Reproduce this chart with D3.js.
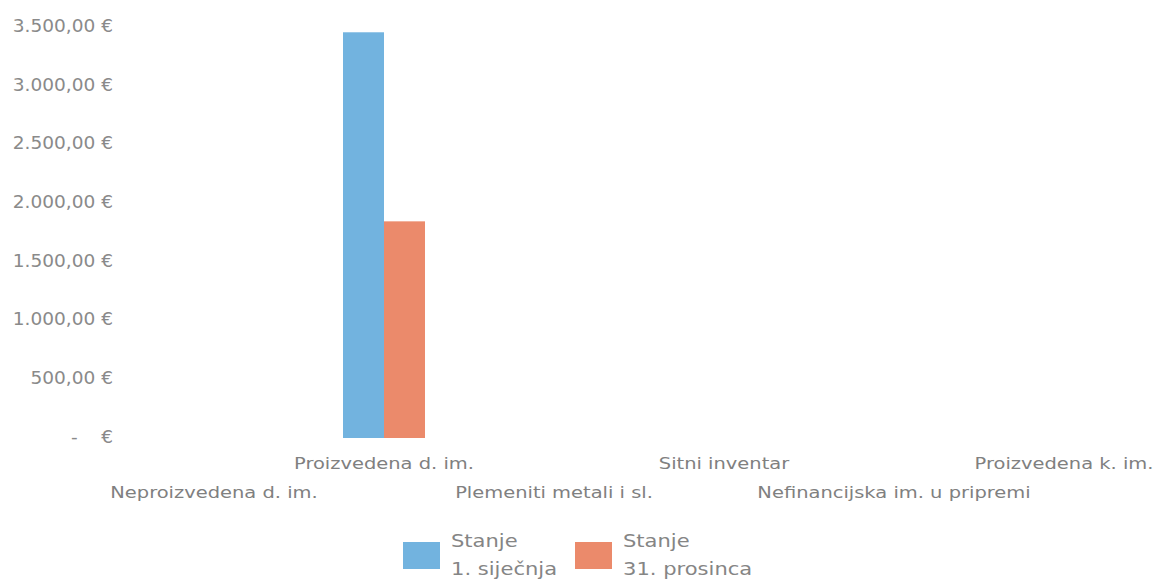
<!DOCTYPE html>
<html><head><meta charset="utf-8">
<script src="https://cdn.jsdelivr.net/npm/d3@7"></script>
<style>body{margin:0;background:#fff;}svg{display:block;}text{font-family:"DejaVu Sans",sans-serif;fill:#888;}</style>
</head><body><svg id="c" width="1160" height="580"></svg>
<script>
const categories = ["Neproizvedena d. im.","Proizvedena d. im.","Plemeniti metali i sl.","Sitni inventar","Nefinancijska im. u pripremi","Proizvedena k. im."];
const seriesNames = [["Stanje","1. siječnja"],["Stanje","31. prosinca"]];
const stanje1 = [0,3455,0,0,0,0];
const stanje31 = [0,1845,0,0,0,0];
const colors = ["#72b3df","#eb8a6b"];
const yTicks = [0,500,1000,1500,2000,2500,3000,3500];

const svg = d3.select("#c");
const m = {l:129, r:1149, t:27, b:438};
const x = d3.scaleBand().domain(categories).range([m.l, m.r]).paddingInner(0).paddingOuter(0);
const x1 = d3.scaleBand().domain([0,1]).range([0, 82]);
const y = d3.scaleLinear().domain([0,3500]).range([m.b, m.t]);

const loc = d3.formatLocale({decimal:",",thousands:".",grouping:[3],currency:["","€"]});
const fmt = v => v === 0 ? "-    €" : loc.format(",.2f")(v) + " €";

const yAxis = d3.axisLeft(y).tickValues(yTicks).tickSize(0).tickPadding(0).tickFormat(fmt);
const ga = svg.append("g").attr("transform",`translate(113,0)`).call(yAxis);
ga.select(".domain").remove();
ga.selectAll("text").style("font-size","17.5px").style("font-family","DejaVu Sans").style("fill","#8a8a8a")
  .attr("dy","0.25em").attr("transform","scale(1.06,1)").style("white-space","pre");

const series = [stanje1, stanje31];
series.forEach((vals,si)=>{
  svg.append("g").selectAll("rect").data(categories.map((c,i)=>({c,v:vals[i]})).filter(d=>d.v>0))
    .join("rect")
    .attr("x", d => x(d.c) + x.bandwidth()/2 - 41 + x1(si))
    .attr("width", x1.bandwidth())
    .attr("y", d => y(d.v))
    .attr("height", d => y(0) - y(d.v))
    .attr("fill", colors[si]);
});

const xAxis = d3.axisBottom(x).tickSize(0).tickPadding(0);
const gx = svg.append("g").attr("transform",`translate(0,${m.b})`).call(xAxis);
gx.select(".domain").remove();
gx.selectAll("text").style("font-size","16.5px").style("font-family","DejaVu Sans").style("fill","#808080")
  .attr("dy",null)
  .attr("y",(d,i)=> i%2===1 ? 31 : 60)
  .attr("transform","scale(1.18,1)");

const leg = svg.append("g");
const legX = [403, 575];
seriesNames.forEach((n,i)=>{
  leg.append("rect").attr("x",legX[i]).attr("y",542).attr("width",37).attr("height",27).attr("fill",colors[i]);
  const g = leg.append("g").attr("transform",`translate(${legX[i]+48},0) scale(1.17,1)`);
  const t = g.append("text").attr("x",0).attr("y",547).style("font-size","18px").style("fill","#858585");
  t.append("tspan").attr("x",0).text(n[0]);
  t.append("tspan").attr("x",0).attr("dy",28).text(n[1]);
});
</script></body></html>
